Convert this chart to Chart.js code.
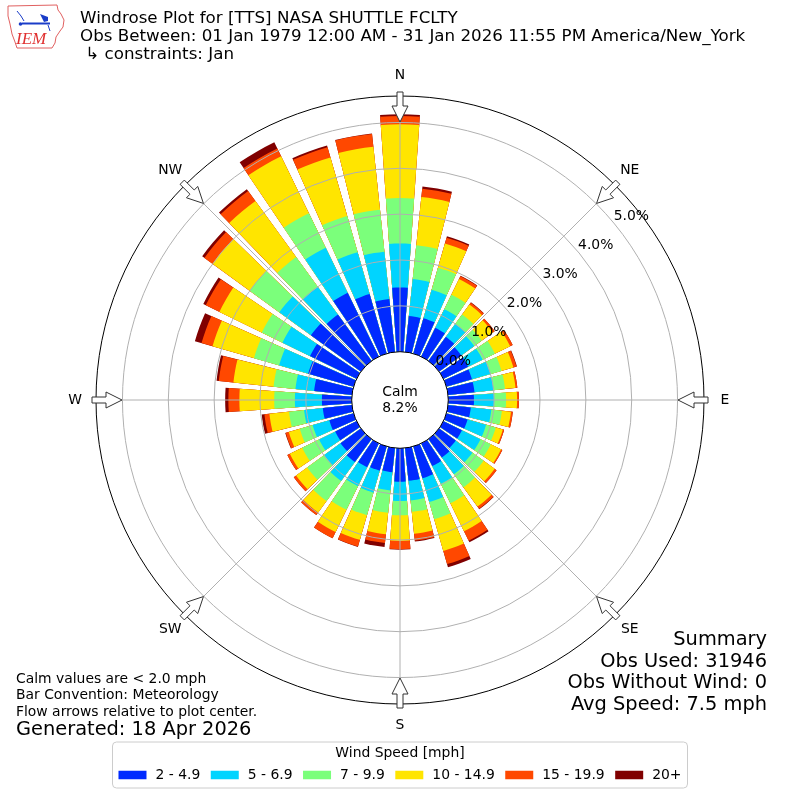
<!DOCTYPE html>
<html>
<head>
<meta charset="utf-8">
<script src="https://cdn.jsdelivr.net/npm/chart.js@4.4.1/dist/chart.umd.min.js"></script>
<style>
html,body{margin:0;padding:0;background:#ffffff;}
canvas{display:block;}
</style>
</head>
<body>
<canvas id="c" width="800" height="800"></canvas>
<script>
// ---------------- data ----------------
const directions = [0,10,20,30,40,50,60,70,80,90,100,110,120,130,140,150,160,170,
                    180,190,200,210,220,230,240,250,260,270,280,290,300,310,320,330,340,350];
const speedBins = ['2 - 4.9','5 - 6.9','7 - 9.9','10 - 14.9','15 - 19.9','20+'];
const binColors = ['#002aff','#00d4ff','#7bff7b','#ffe500','#ff4800','#800000'];

// percent of observations per direction, per speed bin
const pct2to5   = [1.40,0.79,0.80,0.70,0.65,0.60,0.60,0.58,0.58,0.56,0.50,0.48,0.45,0.45,0.50,0.55,0.72,0.72,
                   0.73,0.53,0.55,0.58,0.62,0.55,0.52,0.55,0.64,0.65,0.83,1.03,1.13,1.35,1.25,1.55,1.35,1.16];
const pct5to7   = [0.96,0.81,0.65,0.45,0.35,0.35,0.35,0.42,0.42,0.44,0.45,0.42,0.45,0.45,0.45,0.43,0.54,0.43,
                   0.42,0.40,0.50,0.46,0.51,0.44,0.39,0.38,0.41,0.59,0.41,0.66,0.67,0.85,0.75,1.09,0.95,1.04];
const pct7to10  = [0.99,0.74,0.50,0.35,0.25,0.20,0.30,0.25,0.25,0.26,0.23,0.22,0.25,0.30,0.35,0.47,0.39,0.25,
                   0.31,0.49,0.51,0.57,0.54,0.46,0.41,0.29,0.33,0.45,0.48,0.57,0.50,0.80,0.80,0.84,0.82,0.92];
const pct10to15 = [1.61,1.06,0.55,0.38,0.27,0.30,0.37,0.27,0.23,0.24,0.20,0.16,0.25,0.30,0.52,0.68,0.72,0.48,
                   0.56,0.47,0.56,0.54,0.31,0.30,0.30,0.25,0.43,0.76,0.88,0.94,1.03,1.00,1.51,1.38,1.33,1.38];
const pct15to20 = [0.18,0.18,0.13,0.07,0.05,0.05,0.06,0.07,0.04,0.04,0.04,0.03,0.03,0.05,0.06,0.23,0.30,0.15,
                   0.18,0.19,0.15,0.15,0.07,0.06,0.06,0.07,0.11,0.24,0.32,0.25,0.33,0.22,0.27,0.19,0.23,0.28];
const pct20plus = [0.04,0.05,0.03,0.01,0.01,0.00,0.00,0.01,0.00,0.00,0.00,0.00,0.00,0.00,0.01,0.04,0.07,0.02,
                   0.01,0.09,0.01,0.00,0.00,0.00,0.00,0.01,0.06,0.07,0.05,0.15,0.06,0.06,0.05,0.15,0.04,0.01];

const radialTicks = [0,1,2,3,4,5];
const compassLabels = ['N','NE','E','SE','S','SW','W','NW'];
const calmPercent = 8.2;
const titleLines = ['Windrose Plot for [TTS] NASA SHUTTLE FCLTY',
                    'Obs Between: 01 Jan 1979 12:00 AM - 31 Jan 2026 11:55 PM America/New_York',
                    ' \u21B3 constraints: Jan'];
const noteLines = ['Calm values are < 2.0 mph','Bar Convention: Meteorology','Flow arrows relative to plot center.'];
const generatedText = 'Generated: 18 Apr 2026';
const summaryLines = ['Summary','Obs Used: 31946','Obs Without Wind: 0','Avg Speed: 7.5 mph'];
const legendTitle = 'Wind Speed [mph]';

// ---------------- geometry settings ----------------
const rMin = -1.0534, rMax = 5.577;   // radial axis range (%); 0 sits on calm circle
const barDeg = 8, gapDeg = 2;
const tickLabelAngle = 51;

// build stacked (cumulative) series and split the north bar around 0 deg
const series = [pct2to5, pct5to7, pct7to10, pct10to15, pct15to20, pct20plus];
const cumulative = series.map((_, k) => directions.map((d, i) => {
  let s = 0; for (let j = 0; j <= k; j++) s += series[j][i]; return s;
}));
const angleList = [barDeg/2, gapDeg];
for (let i = 1; i < directions.length; i++) angleList.push(barDeg, gapDeg);
angleList.push(barDeg/2);
function expand(arr) {
  const out = [arr[0], null];
  for (let i = 1; i < arr.length; i++) out.push(arr[i], null);
  out.push(arr[0]);
  return out;
}
const datasets = cumulative.map((arr, k) => ({
  label: speedBins[k],
  data: expand(arr),
  backgroundColor: binColors[k],
  borderWidth: 0,
  angle: (c) => angleList[c.dataIndex]
}));

// ---------------- decorations ----------------
const F = (sz, pre) => (pre || '') + sz + 'px "DejaVu Sans", sans-serif';
const decor = {
  id: 'windroseDecor',
  afterDraw(chart) {
    const ctx = chart.ctx;
    const sc = chart.scales.r;
    const cx = sc.xCenter, cy = sc.yCenter, R = sc.drawingArea;
    ctx.save();

    // calm circle
    const r0 = sc.getDistanceFromCenterForValue(0);
    ctx.beginPath(); ctx.arc(cx, cy, r0, 0, Math.PI * 2);
    ctx.fillStyle = '#fff'; ctx.fill();
    ctx.lineWidth = 1; ctx.strokeStyle = '#000'; ctx.stroke();
    ctx.fillStyle = '#000'; ctx.font = F(13.9);
    ctx.textAlign = 'center'; ctx.textBaseline = 'middle';
    ctx.fillText('Calm', cx, cy - 8);
    ctx.fillText(calmPercent.toFixed(1) + '%', cx, cy + 8);

    // radial tick labels
    const la = tickLabelAngle * Math.PI / 180;
    ctx.textAlign = 'left'; ctx.textBaseline = 'alphabetic';
    radialTicks.forEach(v => {
      const r = sc.getDistanceFromCenterForValue(v);
      ctx.fillText(v.toFixed(1) + '%', cx + r * Math.sin(la) - 2, cy - r * Math.cos(la) - 5);
    });

    // flow arrows + compass labels
    compassLabels.forEach((lab, i) => {
      const th = i * 45 * Math.PI / 180, s = Math.sin(th), c = Math.cos(th);
      const P = (rr, w) => [cx + rr * s + w * c, cy - rr * c + w * s];
      const pts = [[R+4,-3],[R-10,-3],[R-10,-8],[R-26,0],[R-10,8],[R-10,3],[R+4,3]].map(p => P(p[0], p[1]));
      ctx.beginPath();
      pts.forEach((p, j) => j ? ctx.lineTo(p[0], p[1]) : ctx.moveTo(p[0], p[1]));
      ctx.closePath();
      ctx.fillStyle = '#fff'; ctx.fill();
      ctx.strokeStyle = '#333'; ctx.lineWidth = 1; ctx.stroke();
      const lp = P(R + 21, 0);
      ctx.fillStyle = '#000'; ctx.font = F(13.9);
      ctx.textAlign = 'center'; ctx.textBaseline = 'middle';
      ctx.fillText(lab, lp[0], lp[1]);
    });

    // titles
    ctx.fillStyle = '#000'; ctx.textAlign = 'left'; ctx.textBaseline = 'middle';
    ctx.font = F(16.7);
    titleLines.forEach((t, i) => ctx.fillText(t, 80, 19 + i * 18));

    // notes bottom-left
    ctx.font = F(13.9);
    noteLines.forEach((t, i) => ctx.fillText(t, 16, 679 + i * 16.5));
    ctx.font = F(19.4);
    ctx.fillText(generatedText, 16, 730);

    // summary bottom-right
    ctx.textAlign = 'right';
    summaryLines.forEach((t, i) => ctx.fillText(t, 767, 640 + i * 21.7));

    // legend
    ctx.font = F(13.9);
    const sw = 28, sh = 8.5, gapT = 9, gapC = 10.5;
    const labels = chart.data.datasets.map(d => d.label);
    const widths = labels.map(l => ctx.measureText(l).width);
    const total = widths.reduce((a, w) => a + sw + gapT + w, 0) + gapC * (widths.length - 1);
    const midX = chart.width / 2;
    const bx0 = midX - total / 2 - 6, bx1 = midX + total / 2 + 6, by0 = 742, by1 = 788;
    ctx.beginPath();
    if (ctx.roundRect) ctx.roundRect(bx0, by0, bx1 - bx0, by1 - by0, 4); else ctx.rect(bx0, by0, bx1 - bx0, by1 - by0);
    ctx.fillStyle = 'rgba(255,255,255,0.8)'; ctx.fill();
    ctx.strokeStyle = '#cccccc'; ctx.lineWidth = 1; ctx.stroke();
    ctx.fillStyle = '#000'; ctx.textAlign = 'center'; ctx.textBaseline = 'middle';
    ctx.fillText(legendTitle, midX, 753.5);
    let x = midX - total / 2;
    ctx.textAlign = 'left';
    chart.data.datasets.forEach((d, i) => {
      ctx.fillStyle = d.backgroundColor;
      ctx.fillRect(x, 775 - sh / 2, sw, sh);
      ctx.fillStyle = '#000';
      ctx.fillText(d.label, x + sw + gapT, 775);
      x += sw + gapT + widths[i] + gapC;
    });

    // IEM logo
    ctx.beginPath();
    const iowa = [[8,6],[57,5],[58,10],[61,14],[64,20],[63,27],[60,31],[56,37],[55,43],[52,48],[17,48],[15,42],[12,34],[10,24],[8,16]];
    iowa.forEach((p, j) => j ? ctx.lineTo(p[0], p[1]) : ctx.moveTo(p[0], p[1]));
    ctx.closePath();
    ctx.fillStyle = '#fff'; ctx.fill();
    ctx.strokeStyle = '#e06060'; ctx.lineWidth = 1; ctx.stroke();
    ctx.strokeStyle = '#1a3cc8'; ctx.fillStyle = '#1a3cc8'; ctx.lineWidth = 2;
    ctx.beginPath(); ctx.moveTo(22, 23.5); ctx.lineTo(50, 23.5); ctx.stroke();
    ctx.lineWidth = 1;
    ctx.beginPath(); ctx.moveTo(17, 11); ctx.lineTo(21, 16); ctx.lineTo(24, 21); ctx.stroke();
    ctx.beginPath(); ctx.moveTo(40, 14); ctx.lineTo(48, 17); ctx.lineTo(48, 21); ctx.lineTo(44, 22); ctx.closePath(); ctx.fill();
    ctx.beginPath(); ctx.moveTo(48, 25); ctx.lineTo(50, 31); ctx.stroke();
    ctx.beginPath(); ctx.arc(20.5, 24, 1.8, 0, Math.PI * 2); ctx.fill();
    ctx.fillStyle = '#e03030';
    ctx.font = 'italic 17px "Liberation Serif", serif';
    ctx.textAlign = 'left'; ctx.textBaseline = 'alphabetic';
    ctx.fillText('IEM', 16, 44);

    ctx.restore();
  }
};

new Chart(document.getElementById('c'), {
  type: 'polarArea',
  data: { labels: compassLabels, datasets: datasets },
  options: {
    responsive: false,
    animation: false,
    devicePixelRatio: 1,
    layout: { padding: 96 },
    plugins: { legend: { display: false }, tooltip: { enabled: false } },
    scales: {
      r: {
        min: rMin,
        max: rMax,
        startAngle: 0,
        afterBuildTicks: (ax) => { ax.ticks = [rMin].concat(radialTicks, [rMax]).map(v => ({ value: v })); },
        ticks: { display: false },
        grid: {
          z: 1,
          circular: true,
          lineWidth: 1,
          color: (c) => {
            const v = c.tick ? c.tick.value : 0;
            if (v >= rMax - 1e-6) return '#000000';
            if (v <= 0) return 'rgba(0,0,0,0)';
            return '#b0b0b0';
          }
        },
        angleLines: { display: true, color: '#b0b0b0', lineWidth: 1 },
        pointLabels: { display: false }
      }
    }
  },
  plugins: [decor]
});
</script>
</body>
</html>
